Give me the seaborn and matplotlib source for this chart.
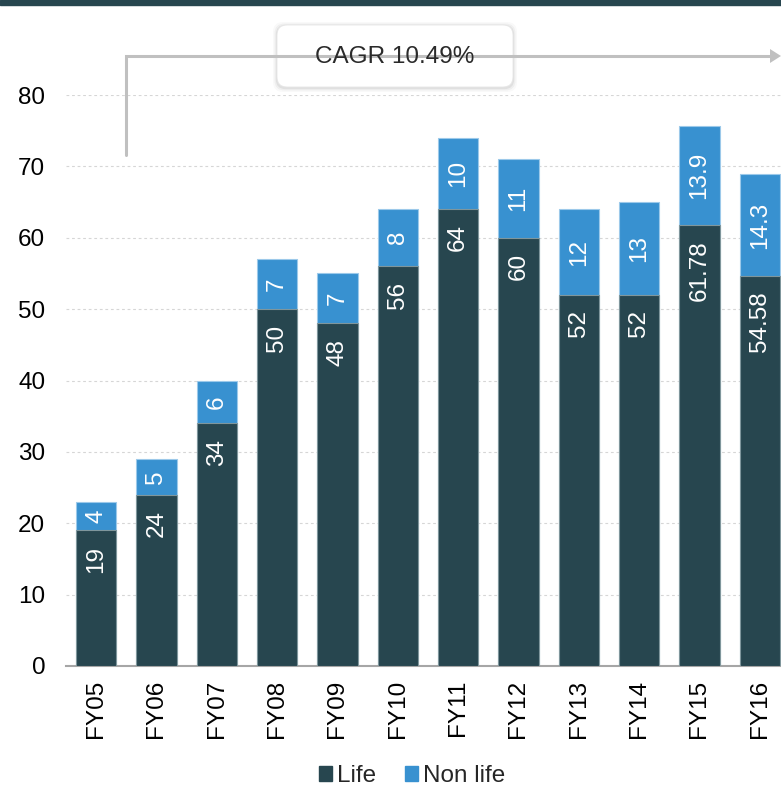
import matplotlib
matplotlib.use("Agg")
import matplotlib.pyplot as plt
import matplotlib.patches as mpatches
from matplotlib.lines import Line2D
import seaborn as sns
import pandas as pd
import numpy as np

years = ["FY05", "FY06", "FY07", "FY08", "FY09", "FY10",
         "FY11", "FY12", "FY13", "FY14", "FY15", "FY16"]
life = [19, 24, 34, 50, 48, 56, 64, 60, 52, 52, 61.78, 54.58]
non_life = [4, 5, 6, 7, 7, 8, 10, 11, 12, 13, 13.9, 14.3]
series_names = ["Life", "Non life"]
y_ticks = [0, 10, 20, 30, 40, 50, 60, 70, 80]
cagr_text = "CAGR 10.49%"

DARK = "#27464f"
BLUE = "#3891d0"
GRID = "#d6d6d6"
AXIS = "#a6a6a6"
ARROW = "#c0c0c0"
FS = 17.5

sns.set_theme(style="white")
plt.rcParams["font.family"] = ["Liberation Sans", "DejaVu Sans"]

df = pd.DataFrame({"year": years, "life": life, "non_life": non_life})
df["total"] = df["life"] + df["non_life"]

W, H = 781, 786
fig = plt.figure(figsize=(W / 100, H / 100), dpi=100)

def fx(px):
    return px / W

def fy(py):
    return 1 - py / H

# axes spans from the 0 line up to the 80 line; right edge runs off the canvas
ax = fig.add_axes([fx(66), fy(666), fx(790) - fx(66), fy(95) - fy(666)])

sns.barplot(data=df, x="year", y="total", color=BLUE, saturation=1,
            width=0.67, errorbar=None, ax=ax, edgecolor="#9cc9ea",
            linewidth=0.8, zorder=2)
sns.barplot(data=df, x="year", y="life", color=DARK, saturation=1,
            width=0.67, errorbar=None, ax=ax, edgecolor="#7f969c",
            linewidth=0.8, zorder=3)

ax.set_xlim(-0.5, len(years) - 0.5)
ax.set_ylim(0, 80)
ax.set_yticks(y_ticks)
ax.set_xlabel("")
ax.set_ylabel("")

# dotted horizontal grid
for v in y_ticks[1:]:
    ax.axhline(v, color=GRID, lw=0.8, ls=(0, (2.5, 2.5)), zorder=1)

for s in ["top", "right", "left"]:
    ax.spines[s].set_visible(False)
ax.spines["bottom"].set_color(AXIS)
ax.spines["bottom"].set_linewidth(1.5)

ax.tick_params(axis="y", length=0, labelsize=FS, colors="black", pad=15)
ax.tick_params(axis="x", which="major", length=0, labelsize=FS,
               colors="black", rotation=90, pad=10)
ax.set_xticks(np.arange(len(years) + 1) - 0.5, minor=True)
ax.tick_params(axis="x", which="minor", length=7, width=1.5, color=AXIS)

# value labels: life near the top of its segment, non life centred
for i, (l, n) in enumerate(zip(life, non_life)):
    ax.annotate(f"{l:g}", xy=(i, l), xytext=(0, -11),
                textcoords="offset points", rotation=90, ha="center",
                va="top", color="white", fontsize=FS, zorder=5)
    ax.text(i, l + n / 2, f"{n:g}", rotation=90, ha="center", va="center",
            color="white", fontsize=FS, zorder=5)

# top band
fig.patches.append(mpatches.Rectangle((0, fy(5)), 1, fy(0) - fy(5),
                                      transform=fig.transFigure,
                                      color=DARK, zorder=0))

# growth arrow
fig.add_artist(Line2D([fx(126), fx(126), fx(772)], [fy(155), fy(56), fy(56)],
                      transform=fig.transFigure, color=ARROW, lw=2.2,
                      solid_joinstyle="miter"))
fig.add_artist(mpatches.Polygon([[fx(770), fy(49)], [fx(781), fy(56)],
                                 [fx(770), fy(63)]], closed=True,
                                transform=fig.transFigure, color=ARROW, lw=0))

# CAGR box with soft shadow
bx0, by0, bx1, by1 = 277, 25, 513, 87
for k, a in [(4, 0.025), (2.5, 0.04), (1.2, 0.06)]:
    fig.add_artist(mpatches.FancyBboxPatch(
        (fx(bx0 - k), fy(by1 + k + 1)),
        fx(bx1 - bx0 + 2 * k), fy(by0) - fy(by1) + (2 * k) / H,
        boxstyle=f"round,pad=0,rounding_size={fx(10)}",
        transform=fig.transFigure, facecolor="black", alpha=a, lw=0,
        mutation_aspect=W / H))
fig.add_artist(mpatches.FancyBboxPatch(
    (fx(bx0), fy(by1)), fx(bx1 - bx0), fy(by0) - fy(by1),
    boxstyle=f"round,pad=0,rounding_size={fx(10)}",
    transform=fig.transFigure, facecolor="white", edgecolor="#e6e6e6",
    lw=0.6, mutation_aspect=W / H))
fig.text(fx((bx0 + bx1) / 2), fy((by0 + by1) / 2 + 1), cagr_text,
         ha="center", va="center", fontsize=FS, color="#2a2a2a")

# legend
handles = [mpatches.Patch(color=DARK, label=series_names[0]),
           mpatches.Patch(color=BLUE, label=series_names[1])]
fig.legend(handles=handles, loc="center", bbox_to_anchor=(fx(412), fy(776)),
           ncol=2, frameon=False, fontsize=FS, handlelength=0.55,
           handleheight=0.55, handletextpad=0.2, columnspacing=1.2)

fig.savefig("out.png", dpi=100)
